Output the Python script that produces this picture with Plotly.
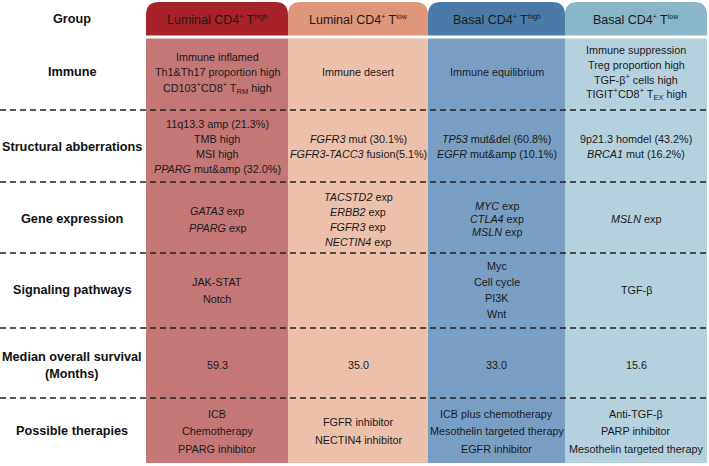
import plotly.graph_objects as go

# ---------------- data ----------------
SUP = "<sup><span style='font-size:7px'>{}</span></sup>"
groups = [
    "Luminal CD4" + SUP.format("+") + " T" + SUP.format("high"),
    "Luminal CD4" + SUP.format("+") + " T" + SUP.format("low"),
    "Basal CD4" + SUP.format("+") + " T" + SUP.format("high"),
    "Basal CD4" + SUP.format("+") + " T" + SUP.format("low"),
]
row_labels = [
    "Immune",
    "Structural abberrations",
    "Gene expression",
    "Signaling pathways",
    "Median overall survival<br>(Months)",
    "Possible therapies",
]
immune = [
    ["Immune inflamed", "Th1&Th17 proportion high", "CD103<sup>+</sup>CD8<sup>+</sup> T<sub>RM</sub> high"],
    ["Immune desert"],
    ["Immune equilibrium"],
    ["Immune suppression", "Treg proportion high", "TGF-β<sup>+</sup> cells high",
     "TIGIT<sup>+</sup>CD8<sup>+</sup> T<sub>EX</sub> high"],
]
structural = [
    ["11q13.3 amp (21.3%)", "TMB high", "MSI high", "<i>PPARG</i> mut&amp (32.0%)"],
    ["<i>FGFR3</i> mut (30.1%)", "<i>FGFR3-TACC3</i> fusion(5.1%)"],
    ["<i>TP53</i> mut&del (60.8%)", "<i>EGFR</i> mut&amp (10.1%)"],
    ["9p21.3 homdel (43.2%)", "<i>BRCA1</i> mut (16.2%)"],
]
gene_expression = [
    ["<i>GATA3</i> exp", "<i>PPARG</i> exp"],
    ["<i>TACSTD2</i> exp", "<i>ERBB2</i> exp", "<i>FGFR3</i> exp", "<i>NECTIN4</i> exp"],
    ["<i>MYC</i> exp", "<i>CTLA4</i> exp", "<i>MSLN</i> exp"],
    ["<i>MSLN</i> exp"],
]
signaling = [
    ["JAK-STAT", "Notch"],
    [],
    ["Myc", "Cell cycle", "PI3K", "Wnt"],
    ["TGF-β"],
]
median_os = [59.3, 35.0, 33.0, 15.6]
therapies = [
    ["ICB", "Chemotherapy", "PPARG inhibitor"],
    ["FGFR inhibitor", "NECTIN4 inhibitor"],
    ["ICB plus chemotherapy", "Mesothelin targeted therapy", "EGFR inhibitor"],
    ["Anti-TGF-β", "PARP inhibitor", "Mesothelin targeted therapy"],
]

# ---------------- layout / style ----------------
W, H = 709, 466
col_left = [146, 288, 428, 565]
col_right = [288, 428, 565, 707]
header_colors = ["#a82328", "#e0967a", "#4a7ba8", "#8ab6c9"]
body_colors = ["#c57777", "#ecc0ab", "#789fc3", "#b6d1de"]
header_top, header_bottom = 2, 35.5
body_top, body_bottom = 38.5, 463
radius = 13
row_centers = [72, 146.5, 219, 290, 365, 431]
row_spacing = [
    [15.5, 15, 15, 14.8],
    [15.3, 15.3, 15.3, 15.3],
    [17, 15, 13.4, 15],
    [17, 16, 16.2, 16],
    [0, 0, 0, 0],
    [17.5, 17.5, 17.5, 17.5],
]
dash_ys = [110, 182, 253, 328, 398]
label_x = 72
font_family = "Liberation Sans, Arial, sans-serif"
text_color = "#1a1a1a"

fig = go.Figure()
shapes = []
annotations = []

for i in range(4):
    x0, x1 = col_left[i], col_right[i]
    r = radius
    path = (f"M {x0},{header_bottom} L {x0},{header_top + r} "
            f"Q {x0},{header_top} {x0 + r},{header_top} "
            f"L {x1 - r},{header_top} Q {x1},{header_top} {x1},{header_top + r} "
            f"L {x1},{header_bottom} Z")
    shapes.append(dict(type="path", path=path, xref="x", yref="y",
                       fillcolor=header_colors[i], line=dict(width=0), layer="below"))
    shapes.append(dict(type="rect", x0=x0, x1=x1, y0=body_top, y1=body_bottom,
                       xref="x", yref="y", fillcolor=body_colors[i],
                       line=dict(width=0), layer="below"))
    annotations.append(dict(x=(x0 + x1) / 2, y=(header_top + header_bottom) / 2 + 1,
                            text=groups[i], showarrow=False, xref="x", yref="y",
                            font=dict(size=12.5, color=text_color, family=font_family)))

for y in dash_ys:
    shapes.append(dict(type="line", x0=0, x1=707, y0=y, y1=y, xref="x", yref="y",
                       line=dict(color="#222222", width=1.5, dash="6px,4px"), layer="above"))

# row labels
label_font = dict(size=12.7, color="#111111", family=font_family)
annotations.append(dict(x=label_x, y=19, text="<b>Group</b>", showarrow=False,
                        xref="x", yref="y", font=label_font))
for r, lab in enumerate(row_labels):
    annotations.append(dict(x=label_x, y=row_centers[r], text=f"<b>{lab}</b>",
                            showarrow=False, xref="x", yref="y", font=label_font))

rows = [immune, structural, gene_expression, signaling,
        [[f"{v:.1f}"] for v in median_os], therapies]
for r, row in enumerate(rows):
    for c, lines in enumerate(row):
        n = len(lines)
        sp = row_spacing[r][c]
        xc = (col_left[c] + col_right[c]) / 2
        for k, line in enumerate(lines):
            y = row_centers[r] + (k - (n - 1) / 2) * sp
            annotations.append(dict(x=xc, y=y, text=line, showarrow=False,
                                    xref="x", yref="y", yanchor="middle",
                                    font=dict(size=10.8, color=text_color, family=font_family)))

fig.update_layout(
    width=W, height=H,
    margin=dict(l=0, r=0, t=0, b=0),
    paper_bgcolor="white", plot_bgcolor="white",
    xaxis=dict(range=[0, W], visible=False, fixedrange=True),
    yaxis=dict(range=[H, 0], visible=False, fixedrange=True),
    shapes=shapes, annotations=annotations,
    showlegend=False,
)
fig.write_html("out.html", config={"displayModeBar": False},
               post_script="document.body.style.margin='0';document.body.style.padding='0';")
